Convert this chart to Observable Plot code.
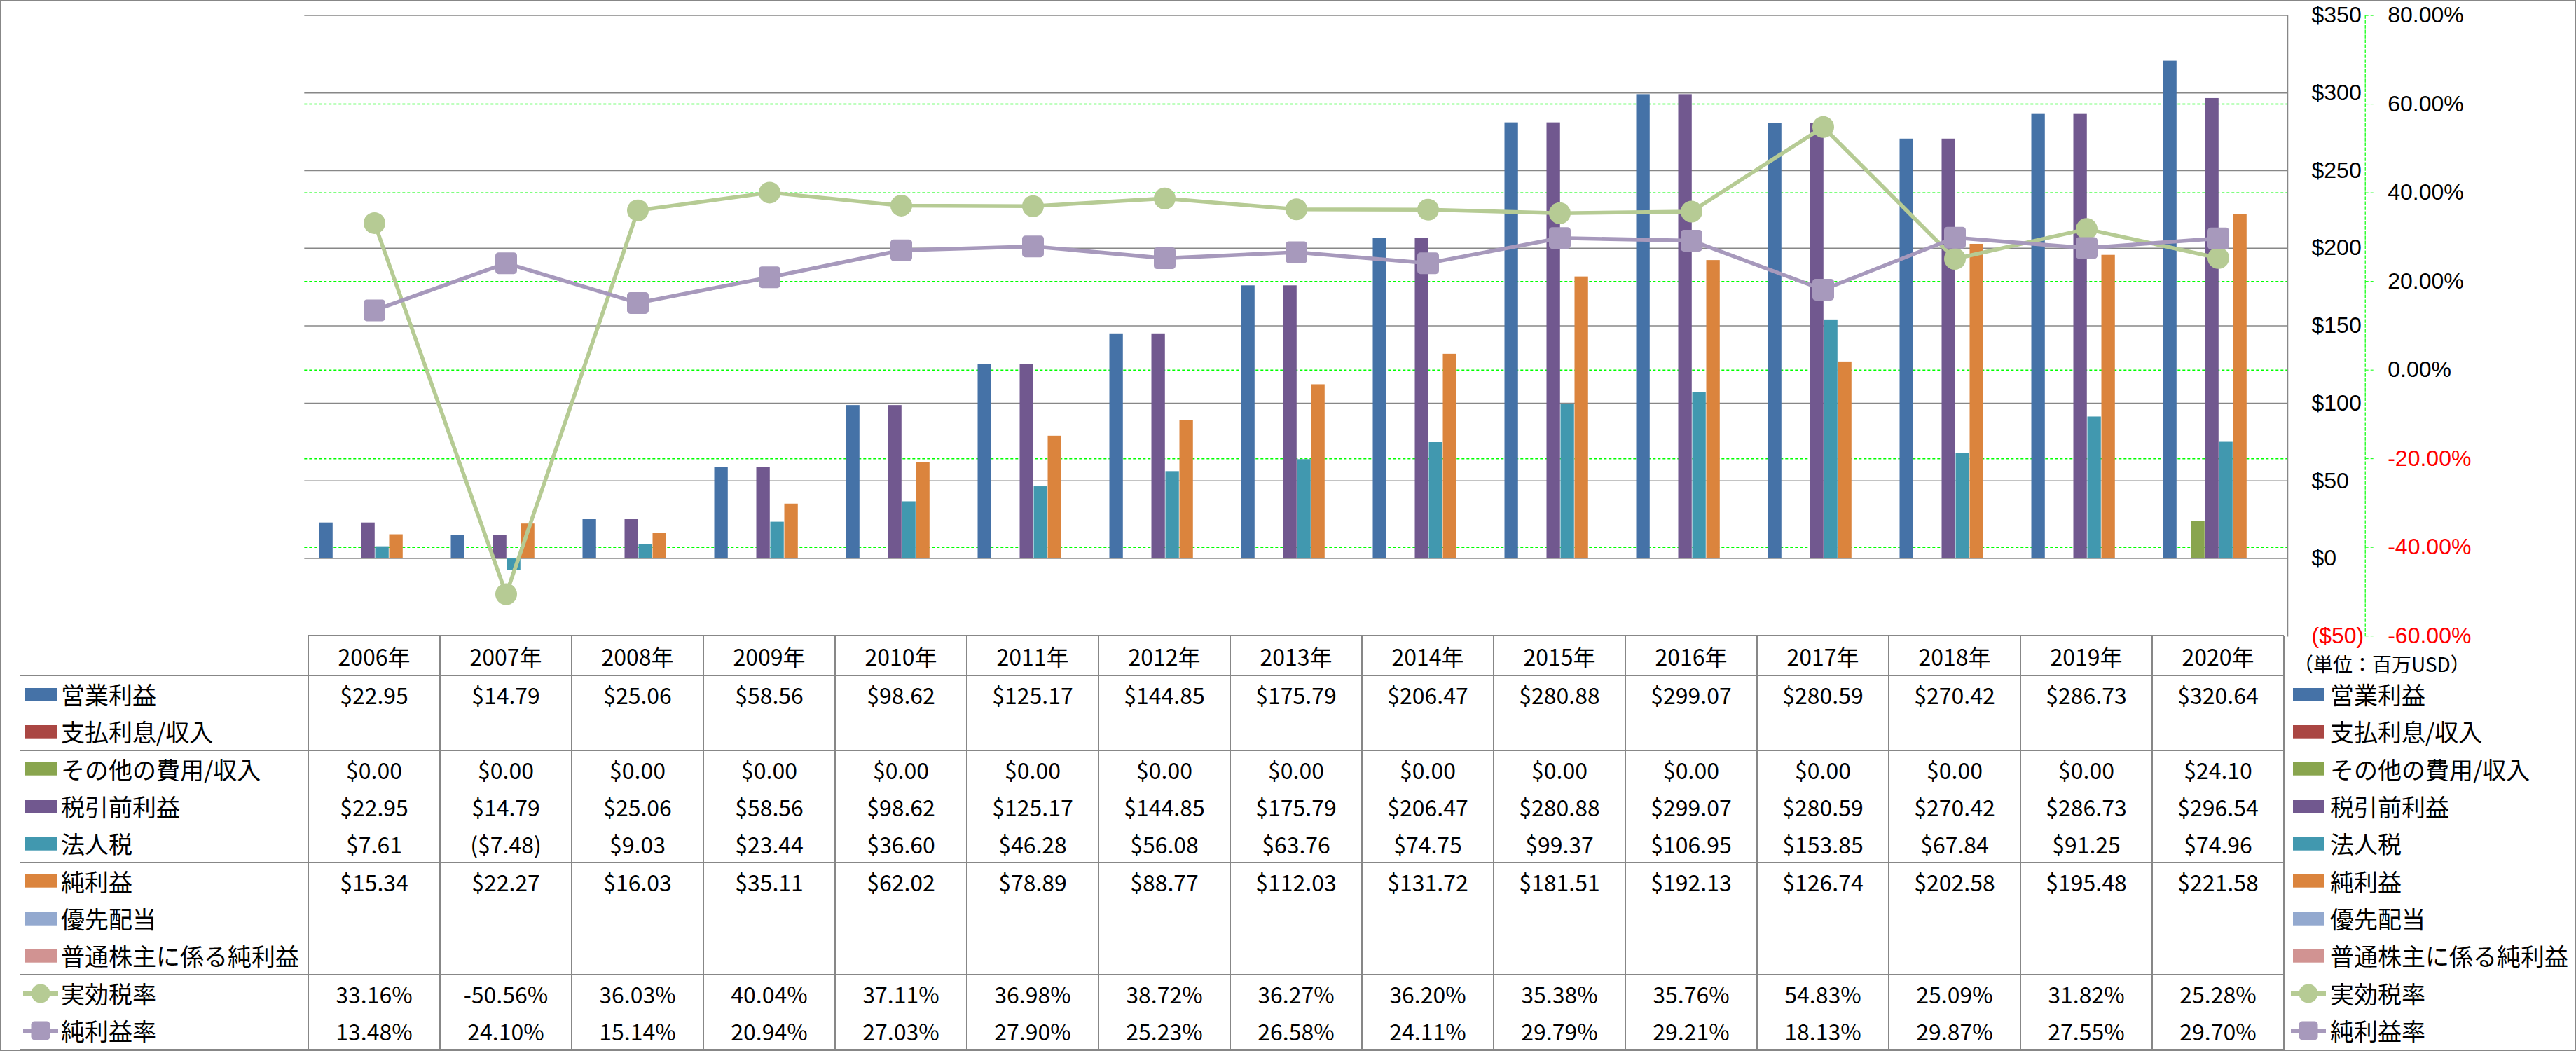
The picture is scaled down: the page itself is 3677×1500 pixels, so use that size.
<!DOCTYPE html>
<html>
<head>
<meta charset="utf-8">
<script src="https://cdn.jsdelivr.net/npm/d3@7"></script>
<script src="https://cdn.jsdelivr.net/npm/@observablehq/plot@0.6"></script>
<style>
  html, body { margin: 0; padding: 0; background: #fff; }
  #wrap { position: relative; width: 3677px; height: 1500px; overflow: hidden; background: #fff;
          font-family: "Noto Sans CJK JP", "Liberation Sans", sans-serif; color: #000; }
  #wrap svg.chart { position: absolute; left: 0; top: 0; }
  .ln { position: absolute; background: #878787; }
  .cell { position: absolute; display: flex; align-items: center; justify-content: center;
          font-size: 32px; line-height: 1; white-space: nowrap; }
  .lab { position: absolute; display: flex; align-items: center; font-size: 34px; line-height: 1; white-space: nowrap; }
  .sw { position: absolute; }
  #border { position: absolute; left: 0; top: 0; width: 3677px; height: 1500px; box-sizing: border-box;
            border: 2px solid #878787; pointer-events: none; }
</style>
</head>
<body>
<div id="wrap"></div>
<script>
// ---------------- data ----------------
const years = [2006, 2007, 2008, 2009, 2010, 2011, 2012, 2013, 2014, 2015, 2016, 2017, 2018, 2019, 2020];

const operatingIncome   = [22.95, 14.79, 25.06, 58.56, 98.62, 125.17, 144.85, 175.79, 206.47, 280.88, 299.07, 280.59, 270.42, 286.73, 320.64];
const interestExpense   = [null, null, null, null, null, null, null, null, null, null, null, null, null, null, null];
const otherExpense      = [0.00, 0.00, 0.00, 0.00, 0.00, 0.00, 0.00, 0.00, 0.00, 0.00, 0.00, 0.00, 0.00, 0.00, 24.10];
const pretaxIncome      = [22.95, 14.79, 25.06, 58.56, 98.62, 125.17, 144.85, 175.79, 206.47, 280.88, 299.07, 280.59, 270.42, 286.73, 296.54];
const incomeTax         = [7.61, -7.48, 9.03, 23.44, 36.60, 46.28, 56.08, 63.76, 74.75, 99.37, 106.95, 153.85, 67.84, 91.25, 74.96];
const netIncome         = [15.34, 22.27, 16.03, 35.11, 62.02, 78.89, 88.77, 112.03, 131.72, 181.51, 192.13, 126.74, 202.58, 195.48, 221.58];
const preferredDividend = [null, null, null, null, null, null, null, null, null, null, null, null, null, null, null];
const netIncomeCommon   = [null, null, null, null, null, null, null, null, null, null, null, null, null, null, null];
const effectiveTaxRate  = [33.16, -50.56, 36.03, 40.04, 37.11, 36.98, 38.72, 36.27, 36.20, 35.38, 35.76, 54.83, 25.09, 31.82, 25.28];
const netProfitMargin   = [13.48, 24.10, 15.14, 20.94, 27.03, 27.90, 25.23, 26.58, 24.11, 29.79, 29.21, 18.13, 29.87, 27.55, 29.70];

const barNames  = ["営業利益", "支払利息/収入", "その他の費用/収入", "税引前利益", "法人税", "純利益", "優先配当", "普通株主に係る純利益"];
const lineNames = ["実効税率", "純利益率"];
const usdTicks  = [-50, 0, 50, 100, 150, 200, 250, 300, 350];
const pctTicks  = [-60, -40, -20, 0, 20, 40, 60, 80];
const unitLabel = "（単位：百万USD）";

// ---------------- styles ----------------
const barColors  = ["#4572A7", "#AA4643", "#89A54E", "#71588F", "#4198AF", "#DB843D", "#93A9CF", "#D19392"];
const lineColors = ["#B6CB94", "#A799BC"];
const GRID = "#878787", GREEN = "#00ff00", RED = "#ff0000";
const FONT = '"Noto Sans CJK JP", "Liberation Sans", sans-serif';
const AXFONT = '"Liberation Sans", sans-serif';

const W = 3677, H = 960;
const plotLeft = 434.3, plotRight = 3265, plotTop = 21.6, plotBottom = 907.2;
const bandW = (plotRight - plotLeft) / years.length;
const slotW = 20, lead = 15.5;

const barSeries = [operatingIncome, interestExpense, otherExpense, pretaxIncome, incomeTax, netIncome, preferredDividend, netIncomeCommon];
const lineSeries = [effectiveTaxRate, netProfitMargin];

// secondary (percent) axis mapped onto the dollar axis
const pct2usd = d3.scaleLinear().domain([-60, 80]).range([-50, 350]);

const roundedSquare = {
  draw(ctx, size) {
    const h = Math.sqrt(size / Math.PI), c = h * 0.3;
    ctx.moveTo(-h + c, -h);
    ctx.arcTo(h, -h, h, h, c);
    ctx.arcTo(h, h, -h, h, c);
    ctx.arcTo(-h, h, -h, -h, c);
    ctx.arcTo(-h, -h, h, -h, c);
    ctx.closePath();
  }
};

const fmtUsd = v => v == null ? "" : (v < 0 ? `($${(-v).toFixed(2)})` : `$${v.toFixed(2)}`);
const fmtPct = v => v == null ? "" : `${v.toFixed(2)}%`;
const fmtUsdTick = v => v < 0 ? `($${-v})` : `$${v}`;
const fmtPctTick = v => `${Math.round(pct2usd.invert(v)).toFixed(2)}%`;

const marks = [];
// gridlines
marks.push(Plot.gridY(pctTicks.filter(p => p > -60 && p < 80).map(pct2usd),
  {stroke: GREEN, strokeOpacity: 1, strokeWidth: 1.5, strokeDasharray: "4,3"}));
marks.push(Plot.gridY(usdTicks.filter(v => v > 0), {stroke: GRID, strokeOpacity: 1, strokeWidth: 1.5}));
marks.push(Plot.ruleY([0], {stroke: GRID, strokeWidth: 1.5}));
// bars
barSeries.forEach((vals, k) => {
  const rows = years.map((y, i) => ({year: y, value: vals[i]})).filter(d => d.value != null);
  marks.push(Plot.barY(rows, {
    x: "year", y: "value", fill: barColors[k],
    insetLeft: lead + k * slotW, insetRight: bandW - lead - (k + 1) * slotW
  }));
});
// lines + markers
lineSeries.forEach((vals, k) => {
  const rows = years.map((y, i) => ({year: y, value: vals[i]}));
  marks.push(Plot.line(rows, {x: "year", y: d => pct2usd(d.value), stroke: lineColors[k], strokeWidth: 5.5}));
  marks.push(Plot.dot(rows, {x: "year", y: d => pct2usd(d.value), r: 15.5,
    symbol: k === 0 ? "circle" : roundedSquare, fill: lineColors[k], stroke: null}));
});
// frame right edge and secondary axis line
marks.push(Plot.frame({anchor: "right", stroke: GRID, strokeWidth: 1.5}));
marks.push(Plot.frame({anchor: "right", dx: 110.7, stroke: GREEN, strokeWidth: 1.2, strokeDasharray: "4,3"}));
// dollar axis
marks.push(Plot.axisY(usdTicks.filter(v => v >= 0), {anchor: "right", tickSize: 0, tickPadding: 34,
  tickFormat: fmtUsdTick, fill: "#000", fontSize: 32, fontFamily: AXFONT}));
marks.push(Plot.axisY(usdTicks.filter(v => v < 0), {anchor: "right", tickSize: 0, tickPadding: 34,
  tickFormat: fmtUsdTick, fill: RED, fontSize: 32, fontFamily: AXFONT}));
// percent axis
marks.push(Plot.axisY(pctTicks.filter(p => p >= 0).map(pct2usd), {anchor: "right", dx: 110.7, tickSize: 11, tickPadding: 21,
  tickFormat: fmtPctTick, fill: "#000", stroke: GREEN, strokeDasharray: "4,3", fontSize: 32, fontFamily: AXFONT}));
marks.push(Plot.axisY(pctTicks.filter(p => p < 0).map(pct2usd), {anchor: "right", dx: 110.7, tickSize: 11, tickPadding: 21,
  tickFormat: fmtPctTick, fill: RED, stroke: GREEN, strokeDasharray: "4,3", fontSize: 32, fontFamily: AXFONT}));

const chart = Plot.plot({
  width: W, height: H,
  marginLeft: plotLeft, marginRight: W - plotRight, marginTop: plotTop, marginBottom: H - plotBottom,
  x: {type: "band", domain: years, padding: 0, axis: null},
  y: {domain: [-50, 350], label: null},
  style: {fontFamily: FONT, fontSize: "32px", background: "transparent", overflow: "visible", color: "#000"},
  marks
});
chart.classList.add("chart");
const wrap = document.getElementById("wrap");
wrap.appendChild(chart);

// ---------------- data table (aligned to the chart's x scale) ----------------
const xs = chart.scale("x");
const bw = xs.bandwidth;
const colLeft = years.map(y => xs.apply(y));
const tLeft = 28.3, tTop = plotBottom, hBottom = 964.3, tBottom = 1497.7;
const rowH = (tBottom - hBottom) / 10;
const tRight = colLeft[colLeft.length - 1] + bw;

function el(cls, css, html) {
  const d = document.createElement("div");
  d.className = cls;
  Object.assign(d.style, css);
  if (html != null) d.innerHTML = html;
  wrap.appendChild(d);
  return d;
}
const LW = 1.5;
// horizontal lines
el("ln", {left: colLeft[0] + "px", top: (tTop - LW / 2) + "px", width: (tRight - colLeft[0]) + "px", height: LW + "px"});
for (let i = 0; i <= 10; i++) {
  const y = hBottom + i * rowH;
  el("ln", {left: tLeft + "px", top: (y - LW / 2) + "px", width: (tRight - tLeft) + "px", height: LW + "px"});
}
// vertical lines
el("ln", {left: (tLeft - LW / 2) + "px", top: hBottom + "px", width: LW + "px", height: (tBottom - hBottom) + "px"});
for (let j = 0; j <= years.length; j++) {
  const x = colLeft[0] + j * bw;
  el("ln", {left: (x - LW / 2) + "px", top: tTop + "px", width: LW + "px", height: (tBottom - tTop) + "px"});
}
// header
years.forEach((y, j) => {
  el("cell", {left: colLeft[j] + "px", top: tTop + "px", width: bw + "px", height: (hBottom - tTop) + "px"}, `${y}年`);
});
// rows
const tableRows = [
  ...barNames.map((n, k) => ({name: n, values: barSeries[k], fmt: fmtUsd, kind: "bar", color: barColors[k]})),
  ...lineNames.map((n, k) => ({name: n, values: lineSeries[k], fmt: fmtPct, kind: k === 0 ? "circle" : "square", color: lineColors[k]}))
];
function swatch(row) {
  if (row.kind === "bar") return `<svg width="45" height="19"><rect width="45" height="18.7" fill="${row.color}"/></svg>`;
  const shape = row.kind === "circle"
    ? `<circle cx="25" cy="15" r="13.5" fill="${row.color}"/>`
    : `<rect x="11.5" y="1.5" width="27" height="27" rx="5" fill="${row.color}"/>`;
  return `<svg width="50" height="30"><line x1="0" x2="50" y1="15" y2="15" stroke="${row.color}" stroke-width="6"/>${shape}</svg>`;
}
tableRows.forEach((row, r) => {
  const top = hBottom + r * rowH, cy = top + rowH / 2;
  row.values.forEach((v, j) => {
    el("cell", {left: colLeft[j] + "px", top: top + "px", width: bw + "px", height: rowH + "px"}, row.fmt(v));
  });
  // legend key inside table
  const isBar = row.kind === "bar";
  el("sw", {left: (isBar ? 36 : 33) + "px", top: (cy - (isBar ? 9.35 : 15)) + "px", lineHeight: 0}, swatch(row));
  el("lab", {left: "87px", top: top + "px", height: rowH + "px"}, row.name);
  // legend on the right
  el("sw", {left: (isBar ? 3273 : 3270) + "px", top: (cy - (isBar ? 9.35 : 15)) + "px", lineHeight: 0}, swatch(row));
  el("lab", {left: "3326px", top: top + "px", height: rowH + "px"}, row.name);
});
// unit label
el("lab", {left: "3274px", top: "930px", height: "34px", fontSize: "28px"}, unitLabel);
// outer border
el("", {}, null).id = "border";
</script>
</body>
</html>
